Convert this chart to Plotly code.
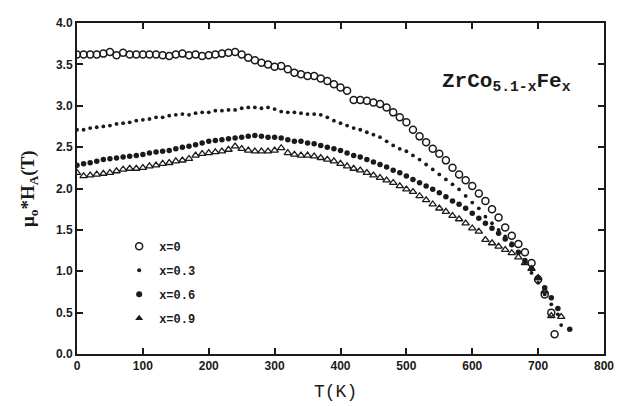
import plotly.graph_objects as go

# ---- data ----
T_x0 = [0, 10, 20, 30, 40, 50, 60, 70, 80, 90, 100, 110, 120, 130, 140, 150, 160, 170, 180, 190,
        200, 210, 220, 230, 240, 250, 260, 270, 280, 290, 300, 310, 320, 330, 340, 350, 360, 370,
        380, 390, 400, 410, 420, 430, 440, 450, 460, 470, 480, 490, 500, 510, 520, 530, 540, 550,
        560, 570, 580, 590, 600, 610, 620, 630, 640, 650, 660, 670, 680, 690, 700, 710, 720, 725]
H_x0 = [3.62, 3.62, 3.62, 3.62, 3.63, 3.65, 3.61, 3.64, 3.62, 3.62, 3.62, 3.62, 3.62, 3.61, 3.60,
        3.62, 3.63, 3.61, 3.62, 3.60, 3.61, 3.62, 3.63, 3.64, 3.65, 3.62, 3.58, 3.55, 3.52, 3.50,
        3.47, 3.48, 3.44, 3.40, 3.38, 3.36, 3.36, 3.33, 3.30, 3.26, 3.22, 3.18, 3.07, 3.07, 3.06,
        3.04, 3.02, 2.98, 2.92, 2.86, 2.80, 2.71, 2.63, 2.56, 2.48, 2.42, 2.34, 2.25, 2.17, 2.10,
        2.03, 1.94, 1.85, 1.75, 1.65, 1.53, 1.43, 1.33, 1.23, 1.10, 0.90, 0.72, 0.50, 0.24]

T_x03 = [0, 10, 20, 30, 40, 50, 60, 70, 80, 90, 100, 110, 120, 130, 140, 150, 160, 170, 180, 190,
         200, 210, 220, 230, 240, 250, 260, 270, 280, 290, 300, 310, 320, 330, 340, 350, 360, 370,
         380, 390, 400, 410, 420, 430, 440, 450, 460, 470, 480, 490, 500, 510, 520, 530, 540, 550,
         560, 570, 580, 590, 600, 610, 620, 630, 640, 650, 660, 670, 680, 690, 700, 710, 720, 730, 735]
H_x03 = [2.71, 2.71, 2.73, 2.74, 2.75, 2.76, 2.78, 2.79, 2.80, 2.82, 2.83, 2.84, 2.86, 2.86, 2.88,
         2.89, 2.90, 2.89, 2.91, 2.92, 2.92, 2.94, 2.94, 2.95, 2.95, 2.97, 2.98, 2.98, 2.97, 2.98,
         2.96, 2.93, 2.92, 2.92, 2.91, 2.90, 2.90, 2.89, 2.86, 2.82, 2.79, 2.76, 2.73, 2.71, 2.68,
         2.65, 2.62, 2.57, 2.52, 2.48, 2.45, 2.40, 2.35, 2.29, 2.23, 2.17, 2.11, 2.05, 1.99, 1.91,
         1.83, 1.76, 1.66, 1.58, 1.50, 1.42, 1.34, 1.22, 1.10, 0.98, 0.86, 0.72, 0.60, 0.48, 0.35]

T_x06 = [0, 10, 20, 30, 40, 50, 60, 70, 80, 90, 100, 110, 120, 130, 140, 150, 160, 170, 180, 190,
         200, 210, 220, 230, 240, 250, 260, 270, 280, 290, 300, 310, 320, 330, 340, 350, 360, 370,
         380, 390, 400, 410, 420, 430, 440, 450, 460, 470, 480, 490, 500, 510, 520, 530, 540, 550,
         560, 570, 580, 590, 600, 610, 620, 630, 640, 650, 660, 670, 680, 690, 700, 710, 720, 730, 748]
H_x06 = [2.28, 2.30, 2.31, 2.33, 2.35, 2.36, 2.37, 2.38, 2.39, 2.40, 2.41, 2.43, 2.44, 2.45, 2.46,
         2.48, 2.50, 2.51, 2.53, 2.55, 2.57, 2.58, 2.59, 2.60, 2.61, 2.62, 2.63, 2.64, 2.63, 2.62,
         2.62, 2.61, 2.59, 2.57, 2.57, 2.55, 2.54, 2.52, 2.50, 2.48, 2.46, 2.43, 2.40, 2.38, 2.35,
         2.32, 2.29, 2.26, 2.22, 2.19, 2.15, 2.11, 2.07, 2.03, 1.99, 1.95, 1.90, 1.85, 1.81, 1.76,
         1.70, 1.64, 1.58, 1.52, 1.46, 1.39, 1.32, 1.23, 1.13, 1.03, 0.92, 0.80, 0.68, 0.55, 0.30]

T_x09 = [0, 10, 20, 30, 40, 50, 60, 70, 80, 90, 100, 110, 120, 130, 140, 150, 160, 170, 180, 190,
         200, 210, 220, 230, 240, 250, 260, 270, 280, 290, 300, 310, 320, 330, 340, 350, 360, 370,
         380, 390, 400, 410, 420, 430, 440, 450, 460, 470, 480, 490, 500, 510, 520, 530, 540, 550,
         560, 570, 580, 590, 600, 610, 620, 630, 640, 650, 660, 670, 680, 690, 700, 710, 720, 735]
H_x09 = [2.19, 2.15, 2.16, 2.17, 2.18, 2.19, 2.21, 2.23, 2.24, 2.24, 2.25, 2.27, 2.28, 2.30, 2.31,
         2.33, 2.34, 2.36, 2.40, 2.42, 2.43, 2.44, 2.45, 2.47, 2.51, 2.48, 2.46, 2.45, 2.45, 2.45,
         2.46, 2.49, 2.43, 2.41, 2.40, 2.40, 2.39, 2.37, 2.35, 2.33, 2.30, 2.27, 2.24, 2.22, 2.19,
         2.16, 2.13, 2.10, 2.07, 2.03, 1.99, 1.96, 1.91, 1.86, 1.81, 1.76, 1.72, 1.67, 1.63, 1.58,
         1.52, 1.48, 1.38, 1.34, 1.30, 1.26, 1.22, 1.17, 1.10, 1.03, 0.92, 0.76, 0.46, 0.45]

legend_labels = ["x=0", "x=0.3", "x=0.6", "x=0.9"]
x_ticks = [0, 100, 200, 300, 400, 500, 600, 700, 800]
y_ticks = [0.0, 0.5, 1.0, 1.5, 2.0, 2.5, 3.0, 3.5, 4.0]

INK = "#1a1a1a"
fig = go.Figure()

# data traces (no legend)
fig.add_trace(go.Scatter(x=T_x0, y=H_x0, mode="markers", showlegend=False,
                         marker=dict(symbol="circle-open", size=7, color=INK, line=dict(width=1.5))))
fig.add_trace(go.Scatter(x=T_x03, y=H_x03, mode="markers", showlegend=False,
                         marker=dict(symbol="circle", size=3.8, color=INK)))
fig.add_trace(go.Scatter(x=T_x06, y=H_x06, mode="markers", showlegend=False,
                         marker=dict(symbol="circle", size=5.5, color=INK)))
fig.add_trace(go.Scatter(x=T_x09, y=H_x09, mode="markers", showlegend=False,
                         marker=dict(symbol="triangle-up-open", size=6.5, color=INK, line=dict(width=1.3))))

# legend entries (as in the original key)
legend_markers = [
    dict(symbol="circle-open", size=7, color=INK, line=dict(width=1.5)),
    dict(symbol="circle", size=4, color=INK),
    dict(symbol="circle", size=6, color=INK),
    dict(symbol="triangle-up", size=7, color=INK),
]
for i, (lab, mk) in enumerate(zip(legend_labels, legend_markers)):
    fig.add_trace(go.Scatter(x=[None], y=[None], mode="markers", name=lab,
                             legendgroup=f"g{i}", marker=mk))

axis_common = dict(showline=True, linecolor=INK, linewidth=2, mirror="ticks",
                   ticks="inside", ticklen=6, tickwidth=1.5, tickcolor=INK,
                   showgrid=False, zeroline=False,
                   tickfont=dict(family="Liberation Sans", size=12, color=INK, weight="bold"))

fig.update_xaxes(range=[0, 800], tickvals=x_ticks, ticktext=[str(v) for v in x_ticks], **axis_common)
fig.update_yaxes(range=[0, 4.0], tickvals=y_ticks, ticktext=[f"{v:.1f}" for v in y_ticks], **axis_common)

# page body has an 8px default margin: size the figure so the plot sits where the reference has it
fig.update_layout(
    width=614, height=398,
    margin=dict(l=69, r=14, t=8, b=52),
    paper_bgcolor="white", plot_bgcolor="white",
    font=dict(family="Liberation Sans", color=INK),
    legend=dict(x=0.08, y=0.369, xanchor="left", yanchor="top",
                bgcolor="rgba(0,0,0,0)", tracegroupgap=5,
                font=dict(family="Liberation Mono", size=12, color=INK, weight="bold"),
                itemwidth=30),
    annotations=[
        dict(text="ZrCo<sub>5.1-x</sub>Fe<sub>x</sub>", xref="paper", yref="paper",
             x=0.688, y=0.82, xanchor="left", yanchor="middle", showarrow=False,
             font=dict(family="Liberation Mono", size=21, color=INK, weight="bold")),
        dict(text="T(K)", xref="paper", yref="paper", x=0.49, y=-0.115,
             xanchor="center", yanchor="middle", showarrow=False,
             font=dict(family="Liberation Mono", size=18, color=INK)),
        dict(text="μ<sub>o</sub>*H<sub>A</sub>(T)", xref="paper", yref="paper",
             x=-0.092, y=0.5, xanchor="center", yanchor="middle", textangle=-90,
             showarrow=False, font=dict(family="Liberation Serif", size=19, color=INK, weight="bold")),
    ],
)

fig.write_html("out.html")
